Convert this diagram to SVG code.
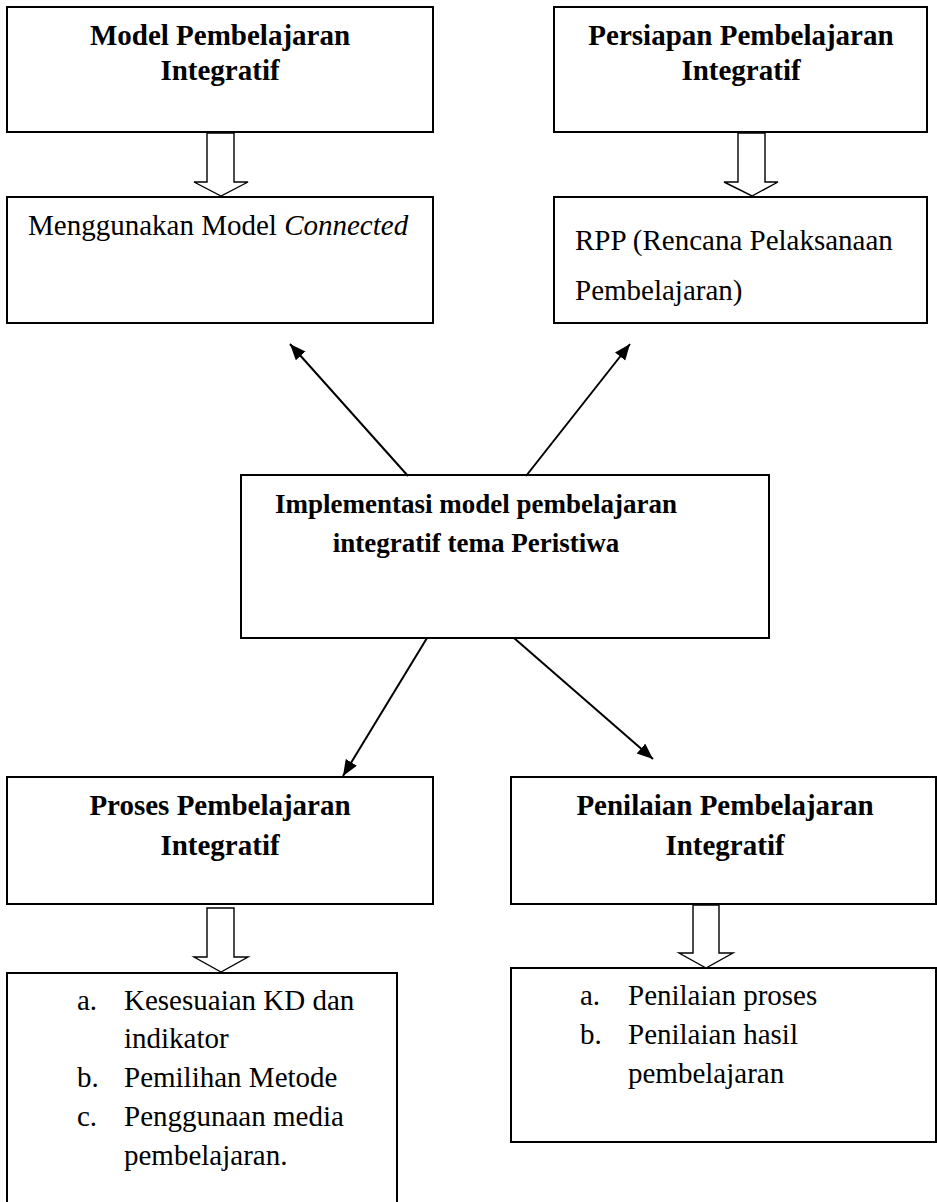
<svg xmlns="http://www.w3.org/2000/svg" width="937" height="1202" viewBox="0 0 937 1202">
<style>
.box{fill:#fff;stroke:#000;stroke-width:2}
.hollow{fill:#fff;stroke:#000;stroke-width:1.4;stroke-linejoin:miter}
.conn{stroke:#000;stroke-width:2;fill:none}
.t{font-family:"Liberation Serif","Times New Roman",serif;font-size:29px;fill:#000}
.b{font-weight:bold}
.c{text-anchor:middle}
.ctr{font-size:27px}
</style>
<defs>
<marker id="ah" markerUnits="userSpaceOnUse" markerWidth="18" markerHeight="14" refX="16" refY="6.5" orient="auto">
<path d="M0,0 L16,6.5 L0,13 z" fill="#000"/>
</marker>
</defs>
<rect width="937" height="1202" fill="#fff"/>

<g id="model">
<rect class="box" x="7" y="7" width="426" height="125"/>
<text class="t b c" x="220" y="45">Model Pembelajaran</text>
<text class="t b c" x="220" y="80">Integratif</text>
</g>

<g id="connected">
<rect class="box" x="7" y="197" width="426" height="126"/>
<text class="t" x="28" y="235">Menggunakan Model <tspan font-style="italic">Connected</tspan></text>
</g>

<g id="persiapan">
<rect class="box" x="554" y="7" width="373" height="125"/>
<text class="t b c" x="741" y="45">Persiapan Pembelajaran</text>
<text class="t b c" x="741" y="80">Integratif</text>
</g>

<g id="rpp">
<rect class="box" x="554" y="197" width="373" height="126"/>
<text class="t" x="575" y="250">RPP (Rencana Pelaksanaan</text>
<text class="t" x="575" y="300">Pembelajaran)</text>
</g>

<g id="implementasi">
<rect class="box" x="241" y="475" width="528" height="163"/>
<text class="t b c ctr" x="476" y="513">Implementasi model pembelajaran</text>
<text class="t b c ctr" x="476" y="552">integratif tema Peristiwa</text>
</g>

<g id="proses">
<rect class="box" x="7" y="777" width="426" height="127"/>
<text class="t b c" x="220" y="815">Proses Pembelajaran</text>
<text class="t b c" x="220" y="855">Integratif</text>
</g>

<g id="proses-list">
<rect class="box" x="7" y="973" width="390" height="240"/>
<text class="t" x="77" y="1010">a.</text>
<text class="t" x="124" y="1010">Kesesuaian KD dan</text>
<text class="t" x="124" y="1048">indikator</text>
<text class="t" x="77" y="1087">b.</text>
<text class="t" x="124" y="1087">Pemilihan Metode</text>
<text class="t" x="77" y="1126">c.</text>
<text class="t" x="124" y="1126">Penggunaan media</text>
<text class="t" x="124" y="1165">pembelajaran.</text>
</g>

<g id="penilaian">
<rect class="box" x="511" y="777" width="425" height="127"/>
<text class="t b c" x="725" y="815">Penilaian Pembelajaran</text>
<text class="t b c" x="725" y="855">Integratif</text>
</g>

<g id="penilaian-list">
<rect class="box" x="511" y="968" width="425" height="174"/>
<text class="t" x="580" y="1005">a.</text>
<text class="t" x="628" y="1005">Penilaian proses</text>
<text class="t" x="580" y="1044">b.</text>
<text class="t" x="628" y="1044">Penilaian hasil</text>
<text class="t" x="628" y="1083">pembelajaran</text>
</g>

<g id="connectors">
<polygon class="hollow" points="207,133 234,133 234,182 248,182 221,196 194,182 207,182"/>
<polygon class="hollow" points="738,133 765,133 765,182 778,182 752,196 724,182 738,182"/>
<polygon class="hollow" points="207,908 234,908 234,957 248,957 221,972 194,957 207,957"/>
<polygon class="hollow" points="693,905 719,905 719,953 733,953 706,968 679,953 693,953"/>
<line class="conn" x1="408" y1="476" x2="290" y2="344" marker-end="url(#ah)"/>
<line class="conn" x1="526" y1="476" x2="630" y2="344" marker-end="url(#ah)"/>
<line class="conn" x1="427" y1="638" x2="343" y2="776" marker-end="url(#ah)"/>
<line class="conn" x1="514" y1="638" x2="653" y2="759" marker-end="url(#ah)"/>
</g>
</svg>
